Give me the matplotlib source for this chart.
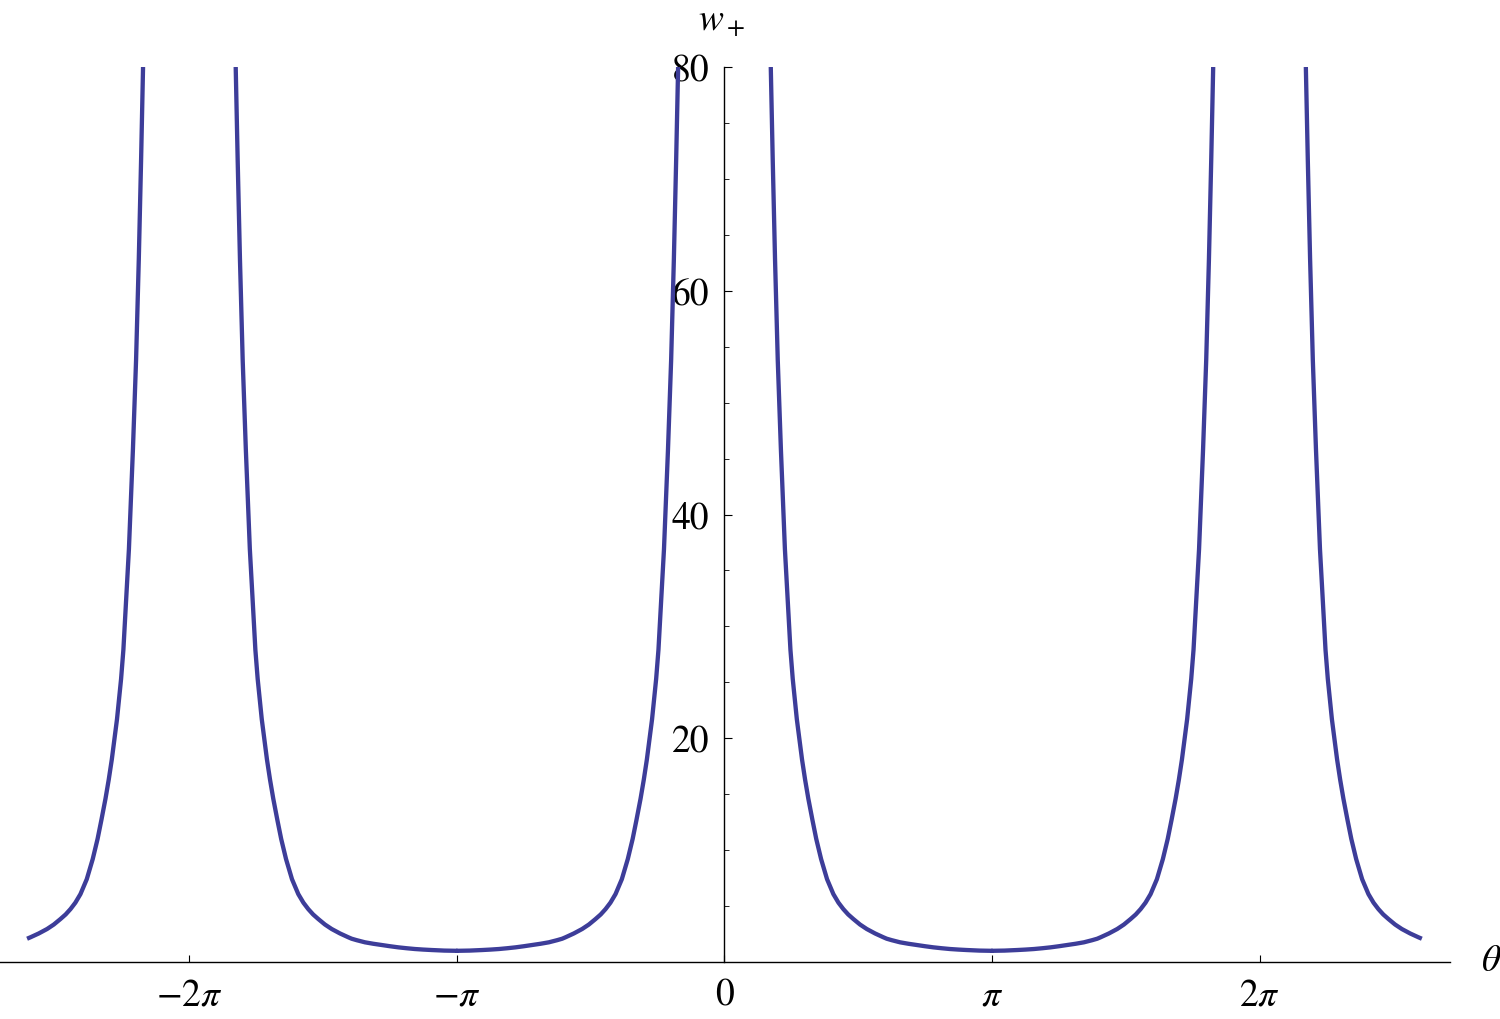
import numpy as np
import matplotlib
matplotlib.use('Agg')
import matplotlib.pyplot as plt
from matplotlib.ticker import MultipleLocator

theta_half = [0.544, 0.567, 0.594, 0.626, 0.663, 0.710, 0.775, 0.802, 0.850, 0.911,
              0.947, 0.985, 1.033, 1.078, 1.135, 1.205, 1.279, 1.339, 1.396, 1.453,
              1.514, 1.592, 1.671, 1.769, 1.866, 1.906, 1.965, 2.062, 2.160, 2.258,
              2.355, 2.453, 2.551, 2.649, 2.748, 2.846, 2.994, 3.1416]
w_half = [80.0, 71.7, 62.8, 53.8, 45.8, 36.9, 27.9, 25.3, 21.7, 18.1,
          16.3, 14.6, 12.7, 11.0, 9.2, 7.4, 6.07, 5.30, 4.73, 4.25,
          3.84, 3.35, 2.95, 2.55, 2.21, 2.08, 1.95, 1.76, 1.63, 1.52,
          1.41, 1.31, 1.23, 1.16, 1.11, 1.07, 1.02, 1.0]
theta_max = 8.19

xticks = [-2*np.pi, -np.pi, 0, np.pi, 2*np.pi]
xtick_labels = [r'$-2\pi$', r'$-\pi$', '0', r'$\pi$', r'$2\pi$']
yticks = [20, 40, 60, 80]

plt.rcParams['font.family'] = ['STIXGeneral', 'DejaVu Serif']
plt.rcParams['mathtext.fontset'] = 'stix'

fig = plt.figure(figsize=(15, 10.2), dpi=100)
ax = fig.add_axes([0, 1 - 963/1020, 1450/1500, (963 - 68)/1020])

th = np.array(theta_half)
w = np.array(w_half)
color = '#3d3d99'
for k in range(-2, 2):
    x = np.concatenate([2*np.pi*k + th, 2*np.pi*(k+1) - th[::-1]])
    y = np.concatenate([w, w[::-1]])
    m = np.abs(x) <= theta_max + 0.002
    if m.any():
        ax.plot(x[m], y[m], color=color, lw=3.1, solid_capstyle='butt',
                solid_joinstyle='round')

ax.set_xlim(-8.507, 8.52)
ax.set_ylim(0, 80)

for s in ['top', 'right']:
    ax.spines[s].set_visible(False)
ax.spines['left'].set_position(('data', 0))
ax.spines['bottom'].set_position(('data', 0))
for s in ['left', 'bottom']:
    ax.spines[s].set_linewidth(1.0)

ax.set_xticks(xticks)
ax.set_xticklabels(xtick_labels)
ax.set_yticks(yticks)
ax.set_yticklabels([str(v) for v in yticks])
ax.yaxis.set_minor_locator(MultipleLocator(5))
ax.tick_params(axis='x', direction='in', length=5, width=0.8, pad=11, labelsize=27)
ax.tick_params(axis='y', which='major', direction='in', length=6, width=0.8, pad=11, labelsize=27)
ax.tick_params(axis='y', which='minor', direction='in', length=3.5, width=0.6)

fig.text(722/1500, 1 - 22/1020, r'$w_+$', ha='center', va='center', fontsize=27)
fig.text(1491/1500, 1 - 962/1020, r'$\theta$', ha='center', va='center', fontsize=27)

fig.savefig('out.png', dpi=100)
